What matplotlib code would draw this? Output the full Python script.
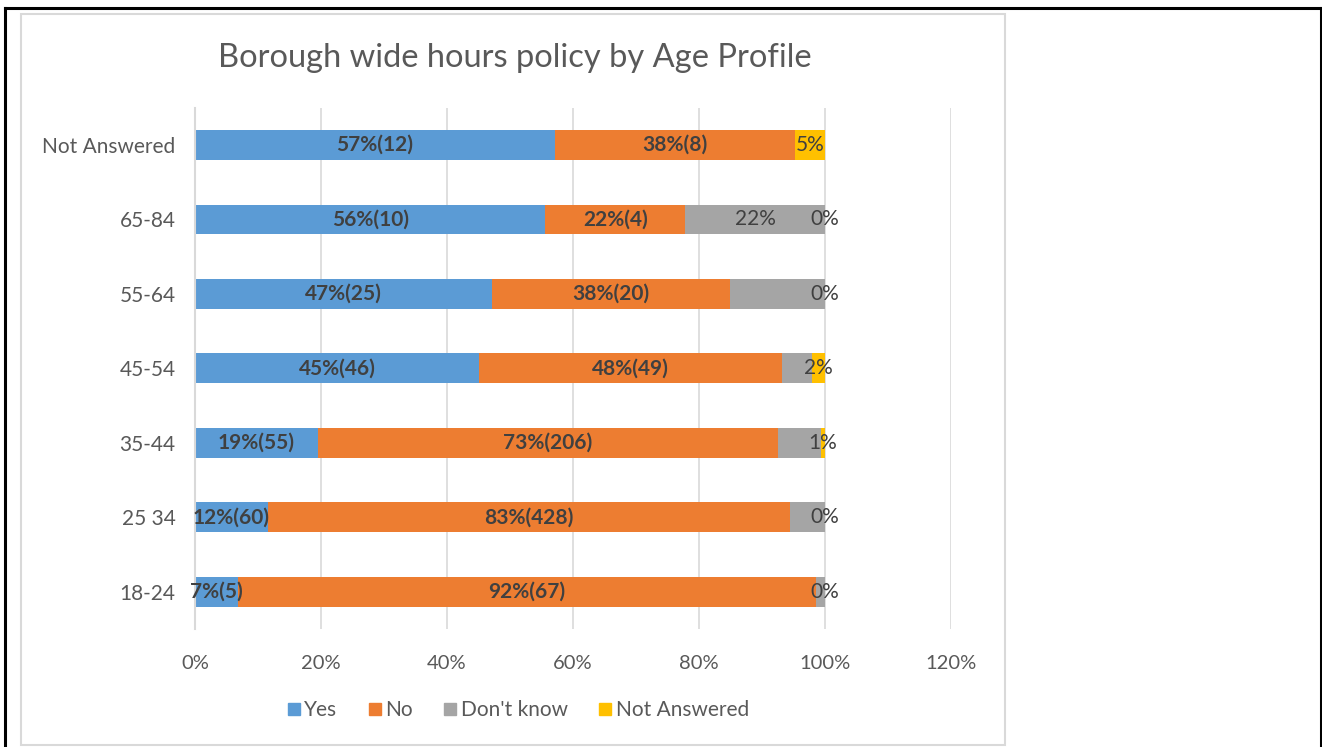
import matplotlib
matplotlib.use("Agg")
import matplotlib.pyplot as plt
from matplotlib.lines import Line2D
from matplotlib.patches import Rectangle

categories = ["18-24", "25 34", "35-44", "45-54", "55-64", "65-84", "Not Answered"]
series_names = ["Yes", "No", "Don't know", "Not Answered"]
yes_pct = [6.8, 11.6, 19.5, 45.1, 47.2, 55.6, 57.1]
no_pct = [91.8, 82.9, 73.0, 48.0, 37.7, 22.2, 38.1]
dk_pct = [1.4, 5.5, 6.8, 4.9, 15.1, 22.2, 0.0]
na_pct = [0.0, 0.0, 0.7, 2.0, 0.0, 0.0, 4.8]
yes_labels = ["7%(5)", "12%(60)", "19%(55)", "45%(46)", "47%(25)", "56%(10)", "57%(12)"]
no_labels = ["92%(67)", "83%(428)", "73%(206)", "48%(49)", "38%(20)", "22%(4)", "38%(8)"]
dk_labels = ["", "", "", "", "", "22%", ""]
na_labels = ["0%", "0%", "1%", "2%", "0%", "0%", "5%"]
x_ticks = [0, 20, 40, 60, 80, 100, 120]
x_tick_labels = ["0%", "20%", "40%", "60%", "80%", "100%", "120%"]
colors = ["#5B9BD5", "#ED7D31", "#A5A5A5", "#FFC000"]
title = "Borough wide hours policy by Age Profile"

plt.rcParams["font.family"] = ["Lato", "DejaVu Sans"]

W, H = 1322, 747
fig = plt.figure(figsize=(W / 100, H / 100), dpi=100)
fig.patch.set_facecolor("white")

# chart frame (light gray) and outer black frame
fig.add_artist(Rectangle((21 / W, 1 - 745 / H), (1005 - 21) / W, (745 - 14) / H,
                         transform=fig.transFigure, fill=False, edgecolor="#D9D9D9", linewidth=1.5))
fig.add_artist(Line2D([4.5 / W, 4.5 / W], [0, 1 - 8 / H], transform=fig.transFigure, color="black", linewidth=2.2))
fig.add_artist(Line2D([4.5 / W, 1320.5 / W], [1 - 8 / H, 1 - 8 / H], transform=fig.transFigure, color="black", linewidth=2.2))
fig.add_artist(Line2D([1320.5 / W, 1320.5 / W], [0, 1 - 8 / H], transform=fig.transFigure, color="black", linewidth=2.2))

left, right = 195, 951
top, bottom = 107.75, 629
ax = fig.add_axes([left / W, 1 - bottom / H, (right - left) / W, (bottom - top) / H])

y = list(range(len(categories)))
series = [yes_pct, no_pct, dk_pct, na_pct]
labels_all = [yes_labels, no_labels, dk_labels, na_labels]
starts = [0.0] * len(categories)
for s, (vals, col, name, labs) in enumerate(zip(series, colors, series_names, labels_all)):
    ax.barh(y, vals, left=starts, height=0.4, color=col, label=name, zorder=3)
    for i, (v, st, lab) in enumerate(zip(vals, starts, labs)):
        if lab:
            ax.text(st + v / 2, i, lab, ha="center", va="center",
                    fontsize=15, color="#404040", clip_on=False,
                    fontweight="bold" if s < 2 else "normal", zorder=6)
    starts = [a + b for a, b in zip(starts, vals)]

ax.set_xlim(0, 120)
ax.set_ylim(-0.5, len(categories) - 0.5)
ax.set_xticks(x_ticks)
ax.set_xticklabels(x_tick_labels)
ax.set_yticks(y)
ax.set_yticklabels(categories)
ax.tick_params(axis="x", length=0, pad=19, labelsize=14.5, labelcolor="#595959")
ax.tick_params(axis="y", length=0, pad=14, labelsize=15, labelcolor="#595959")
ax.grid(axis="x", color="#D9D9D9", linewidth=1.2, zorder=0)
for sp in ["top", "right", "bottom"]:
    ax.spines[sp].set_visible(False)
ax.spines["left"].set_color("#D9D9D9")
ax.spines["left"].set_linewidth(1.5)
ax.spines["left"].set_zorder(4)

fig.text(515 / W, 1 - 58 / H, title, ha="center", va="center", fontsize=23.5, color="#595959")

handles = [Line2D([0], [0], marker="s", linestyle="none", markersize=8,
                  markerfacecolor=c, markeredgecolor=c) for c in colors]
fig.legend(handles, series_names, loc="center", bbox_to_anchor=(517 / W, 1 - 710 / H),
           ncol=4, frameon=False, fontsize=15, labelcolor="#595959",
           handletextpad=0.1, columnspacing=1.4, handlelength=0.8)

fig.savefig("out.png", dpi=100, facecolor="white")
